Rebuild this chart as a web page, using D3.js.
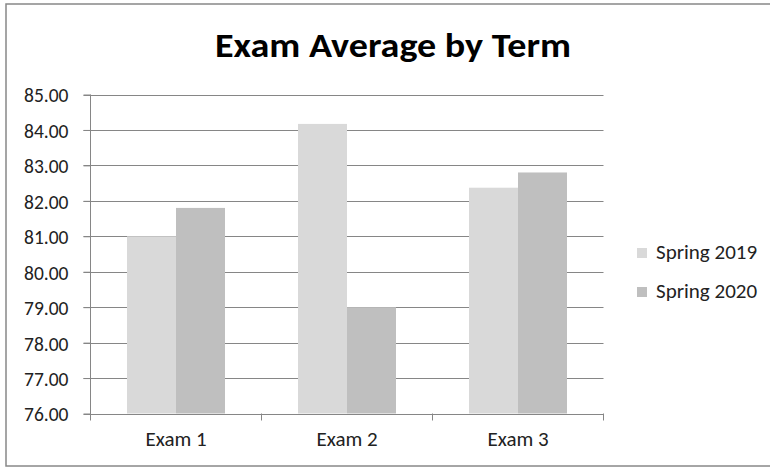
<!DOCTYPE html>
<html>
<head>
<meta charset="utf-8">
<script src="https://cdn.jsdelivr.net/npm/d3@7"></script>
<style>
  body { margin: 0; background: #fff; }
  svg { display: block; }
  svg text { font-family: Carlito, Lato, "Open Sans", sans-serif; }
  .grid line { stroke: #868686; stroke-width: 1; }
  .axis path, .axis line { stroke: #868686; }
  .axis text { fill: #222; }
</style>
</head>
<body>
<script>
const exams = ['Exam 1', 'Exam 2', 'Exam 3'];
const terms = ['Spring 2019', 'Spring 2020'];
const spring2019 = [81.0, 84.17, 82.37];
const spring2020 = [81.8, 79.0, 82.8];
const yTicks = [76, 77, 78, 79, 80, 81, 82, 83, 84, 85];
const colors = ['#d9d9d9', '#bfbfbf'];

const width = 770, height = 467;
const plotLeft = 90.5, plotRight = 603.5, plotTop = 94.5, plotBottom = 413.5;

const svg = d3.select('body').append('svg')
    .attr('width', width)
    .attr('height', height);

// frame
svg.append('rect')
    .attr('x', 6).attr('y', 4)
    .attr('width', 775).attr('height', 462)
    .attr('fill', '#fff')
    .attr('stroke', '#888')
    .attr('stroke-width', 1.5);

const x = d3.scaleBand().domain(exams).range([plotLeft, plotRight]);
const xInner = d3.scaleBand().domain(terms).range([0, x.bandwidth()]).paddingOuter(0.745);
const y = d3.scaleLinear().domain([76, 85]).range([plotBottom, plotTop]);

// gridlines
svg.append('g').attr('class', 'grid')
    .selectAll('line')
    .data(yTicks)
    .enter().append('line')
    .attr('x1', plotLeft - 7).attr('x2', plotRight)
    .attr('y1', d => Math.round(y(d)) + 0.5)
    .attr('y2', d => Math.round(y(d)) + 0.5);

// bars
const rows = exams.map((e, i) => ({ exam: e, vals: [spring2019[i], spring2020[i]] }));
const groups = svg.append('g').selectAll('g')
    .data(rows)
    .enter().append('g')
    .attr('transform', d => `translate(${x(d.exam)},0)`);

groups.selectAll('rect')
    .data(d => d.vals.map((v, j) => ({ term: terms[j], v, j })))
    .enter().append('rect')
    .attr('x', d => xInner(d.term))
    .attr('width', xInner.bandwidth())
    .attr('y', d => y(d.v))
    .attr('height', d => y(76) - y(d.v))
    .attr('fill', d => colors[d.j]);

// y axis
const yAxis = svg.append('g').attr('class', 'axis')
    .attr('transform', `translate(${plotLeft},0)`)
    .call(d3.axisLeft(y).tickValues(yTicks).tickFormat(d3.format('.2f')).tickSize(7).tickPadding(15))
    .attr('font-family', null)
    .attr('font-size', 19.5);
yAxis.selectAll('text').attr('dy', '0.38em');
yAxis.select('.domain').attr('d', `M0,${plotTop}V${plotBottom + 7}`);

// x axis
const xAxis = svg.append('g').attr('class', 'axis')
    .attr('transform', `translate(0,${plotBottom})`)
    .call(d3.axisBottom(x).tickSize(0).tickPadding(18))
    .attr('font-family', null)
    .attr('font-size', 21);
xAxis.select('.domain').remove();
xAxis.selectAll('.cat-tick')
    .data(exams)
    .enter().append('line')
    .attr('class', 'cat-tick')
    .attr('x1', d => x(d) + x.bandwidth()).attr('x2', d => x(d) + x.bandwidth())
    .attr('y1', 0).attr('y2', 7)
    .attr('stroke', '#868686');

// title
svg.append('text')
    .attr('x', 393).attr('y', 57)
    .attr('text-anchor', 'middle')
    .attr('font-weight', 'bold')
    .attr('font-size', 35)
    .attr('textLength', 356)
    .attr('lengthAdjust', 'spacingAndGlyphs')
    .attr('fill', '#000')
    .text('Exam Average by Term');

// legend
const legend = svg.append('g').selectAll('g')
    .data(terms)
    .enter().append('g')
    .attr('transform', (d, i) => `translate(637,${248 + i * 39})`);
legend.append('rect').attr('width', 10).attr('height', 10)
    .attr('fill', (d, i) => colors[i]);
legend.append('text')
    .attr('x', 19).attr('y', 10.5)
    .attr('font-size', 21)
    .attr('fill', '#222')
    .text(d => d);
</script>
</body>
</html>
